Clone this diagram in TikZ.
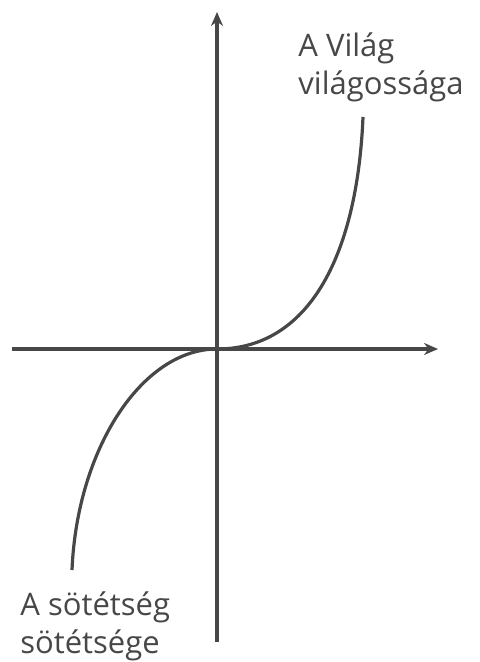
\documentclass[tikz,border=0pt]{standalone}
\usepackage{fontspec}
\setmainfont{Open Sans}
\usetikzlibrary{arrows.meta}
\definecolor{ink}{HTML}{474747}
\begin{document}
\begin{tikzpicture}[x=0.5pt, y=-0.5pt,
    axis/.style={ink, line width=2pt, -{Stealth[length=7pt, width=6pt]}},
    curve/.style={ink, line width=1.6pt},
    caption/.style={ink, font=\fontsize{15.5}{19}\selectfont, align=left, inner sep=0pt, anchor=base west}]
    \useasboundingbox (0,0) rectangle (479,662);

    \coordinate (o) at (217,349);
    \coordinate (xl) at (12,349);
    \coordinate (xr) at (438,349);
    \coordinate (yb) at (217,642);
    \coordinate (yt) at (217,12);
    \coordinate (up) at (363,117);
    \coordinate (down) at (72,570);

    \draw[axis] (xl) -- (xr);
    \draw[axis] (yb) -- (yt);
    \draw[curve] (o) .. controls +(90,0) and +(-6,142) .. (up);
    \draw[curve] (o) .. controls +(-75,0) and +(5,-121) .. (down);

    \node[caption] (light) at (298,95) {A Világ\\világossága};
    \node[caption] (dark) at (20,653) {A sötétség\\sötétsége};
\end{tikzpicture}
\end{document}
